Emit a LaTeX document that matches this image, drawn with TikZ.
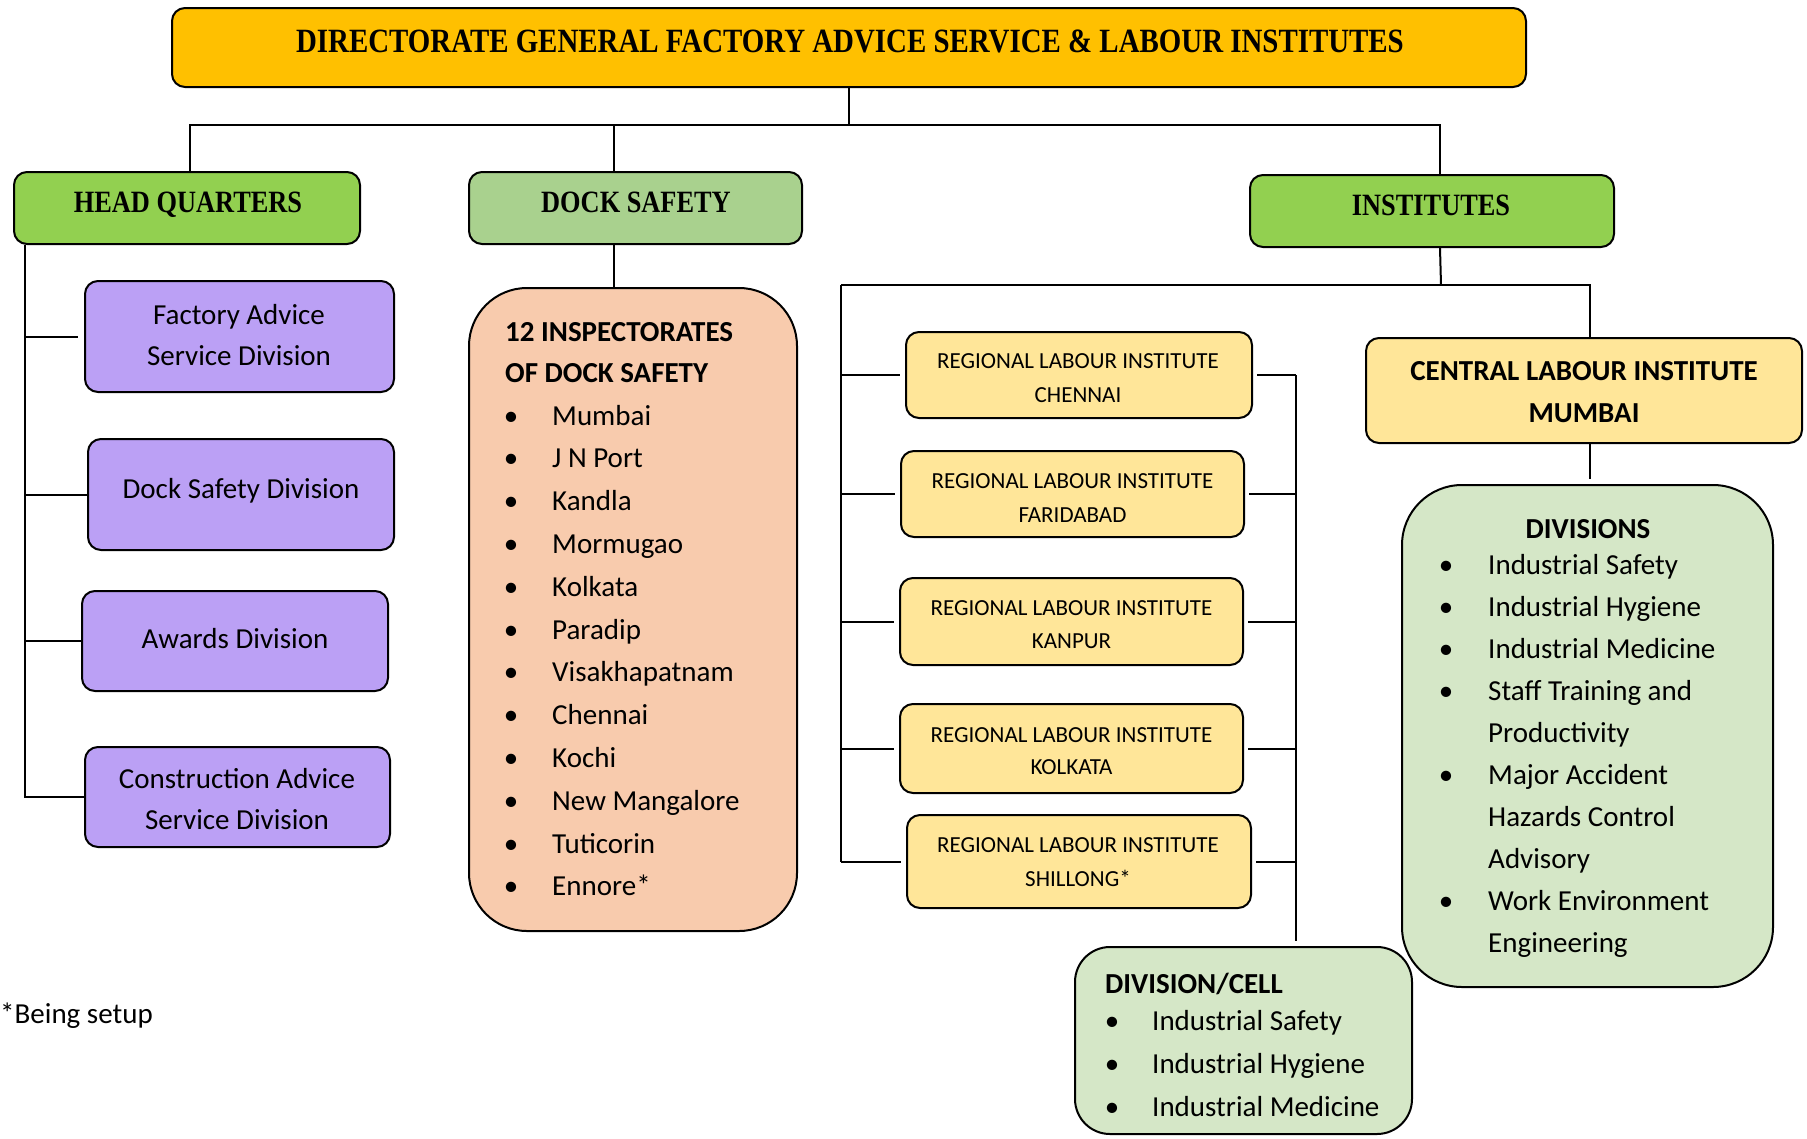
\documentclass[tikz,border=0pt]{standalone}
\usepackage{fontspec}
\setmainfont{Carlito}
\newfontfamily\hdfont[FakeStretch=0.85]{Liberation Serif}
\usetikzlibrary{calc}
\definecolor{cgold}{HTML}{FFC000}
\definecolor{cgreen}{HTML}{92D050}
\definecolor{cdock}{HTML}{A9D18E}
\definecolor{cpurple}{RGB}{187,160,245}
\definecolor{cpeach}{HTML}{F8CBAD}
\definecolor{cyell}{HTML}{FFE699}
\definecolor{clgreen}{RGB}{213,231,199}
\tikzset{
  box/.style={draw=black, line width=2pt, rounded corners=13pt, inner sep=0pt},
  conn/.style={draw=black, line width=2pt},
  hd/.style={inner sep=0pt, anchor=base, font=\hdfont\bfseries\fontsize{31}{37}\selectfont},
  ctxt/.style={inner sep=0pt, anchor=base, font=\fontsize{29}{35}\selectfont},
  btxt/.style={inner sep=0pt, anchor=base west, font=\bfseries\fontsize{29}{35}\selectfont},
  item/.style={inner sep=0pt, anchor=base west, font=\fontsize{29}{35}\selectfont},
  bul/.style={inner sep=0pt, anchor=base, font=\fontsize{29}{35}\selectfont},
  rtxt/.style={inner sep=0pt, anchor=base, font=\fontsize{23}{28}\selectfont}
}
\begin{document}
\begin{tikzpicture}[x=1pt,y=-1pt]
\useasboundingbox (0,0) rectangle (1807,1138);
% ---------- top ----------
\node[box, fill=cgold, minimum width=1354pt, minimum height=79pt] (top) at (849,47.5) {};
\node[hd, font=\hdfont\bfseries\fontsize{34}{40}\selectfont] (toptxt) at (850,52) {DIRECTORATE GENERAL FACTORY ADVICE SERVICE \& LABOUR INSTITUTES};
% ---------- second level ----------
\node[box, fill=cgreen, minimum width=346pt, minimum height=72pt] (hq) at (187,208) {};
\node[hd] (hqtxt) at (188,212) {HEAD QUARTERS};
\node[box, fill=cdock, minimum width=333pt, minimum height=72pt] (dock) at (635.5,208) {};
\node[hd] (docktxt) at (636,212) {DOCK SAFETY};
\node[box, fill=cgreen, minimum width=364pt, minimum height=72pt] (inst) at (1432,211) {};
\node[hd] (insttxt) at (1431,215) {INSTITUTES};
% ---------- HQ divisions ----------
\node[box, fill=cpurple, minimum width=309pt, minimum height=111pt] (p1) at (239.5,336.5) {};
\node[ctxt] (p1a) at (239,324) {Factory Advice};
\node[ctxt] (p1b) at (239,365) {Service Division};
\node[box, fill=cpurple, minimum width=306pt, minimum height=111pt] (p2) at (241,494.5) {};
\node[ctxt] (p2a) at (241,498) {Dock Safety Division};
\node[box, fill=cpurple, minimum width=306pt, minimum height=100pt] (p3) at (235,641) {};
\node[ctxt] (p3a) at (235,648) {Awards Division};
\node[box, fill=cpurple, minimum width=305pt, minimum height=100pt] (p4) at (237.5,797) {};
\node[ctxt] (p4a) at (237,788) {Construction Advice};
\node[ctxt] (p4b) at (237,829) {Service Division};
% ---------- dock inspectorates ----------
\node[box, fill=cpeach, rounded corners=58pt, minimum width=328pt, minimum height=643pt] (peach) at (633,609.5) {};
\node[btxt] (insp1) at (505,341) {12 INSPECTORATES};
\node[btxt] (insp2) at (505,382) {OF DOCK SAFETY};
\foreach \t [count=\i from 0] in {Mumbai,J N Port,Kandla,Mormugao,Kolkata,Paradip,Visakhapatnam,Chennai,Kochi,New Mangalore,Tuticorin,Ennore*} {
  \node[item] (dk\i) at (552,{425+\i*42.8}) {\t};
  \node[bul] (dkb\i) at (511,{425+\i*42.8}) {•};
}
% ---------- regional labour institutes ----------
\node[box, fill=cyell, minimum width=346pt, minimum height=86pt] (r1) at (1079,375) {};
\node[rtxt] (r1a) at (1078,368) {REGIONAL LABOUR INSTITUTE};
\node[rtxt] (r1b) at (1078,402) {CHENNAI};
\node[box, fill=cyell, minimum width=343pt, minimum height=86pt] (r2) at (1072.5,494) {};
\node[rtxt] (r2a) at (1072.5,488) {REGIONAL LABOUR INSTITUTE};
\node[rtxt] (r2b) at (1072.5,522) {FARIDABAD};
\node[box, fill=cyell, minimum width=343pt, minimum height=87pt] (r3) at (1071.5,621.5) {};
\node[rtxt] (r3a) at (1071.5,615) {REGIONAL LABOUR INSTITUTE};
\node[rtxt] (r3b) at (1071.5,648) {KANPUR};
\node[box, fill=cyell, minimum width=343pt, minimum height=89pt] (r4) at (1071.5,748.5) {};
\node[rtxt] (r4a) at (1071.5,742) {REGIONAL LABOUR INSTITUTE};
\node[rtxt] (r4b) at (1071.5,774) {KOLKATA};
\node[box, fill=cyell, minimum width=344pt, minimum height=93pt] (r5) at (1079,861.5) {};
\node[rtxt] (r5a) at (1078,852) {REGIONAL LABOUR INSTITUTE};
\node[rtxt] (r5b) at (1078,886) {SHILLONG*};
% ---------- division / cell ----------
\node[box, fill=clgreen, rounded corners=35pt, minimum width=337pt, minimum height=187pt] (dc) at (1243.5,1040.5) {};
\node[btxt] (dch) at (1105,993) {DIVISION/CELL};
\foreach \t [count=\i from 0] in {Industrial Safety,Industrial Hygiene,Industrial Medicine} {
  \node[item] (dc\i) at (1152,{1030+\i*43}) {\t};
  \node[bul] (dcb\i) at (1112,{1030+\i*43}) {•};
}
% ---------- central labour institute ----------
\node[box, fill=cyell, minimum width=436pt, minimum height=105pt] (cli) at (1584,390.5) {};
\node[ctxt, font=\bfseries\fontsize{29}{35}\selectfont] (clia) at (1584,380) {CENTRAL LABOUR INSTITUTE};
\node[ctxt, font=\bfseries\fontsize{29}{35}\selectfont] (clib) at (1584,422) {MUMBAI};
\node[box, fill=clgreen, rounded corners=60pt, minimum width=371pt, minimum height=502pt] (divs) at (1587.5,736) {};
\node[ctxt, font=\bfseries\fontsize{29}{35}\selectfont] (divh) at (1588,538) {DIVISIONS};
\foreach \t [count=\i from 0] in {Industrial Safety,Industrial Hygiene,Industrial Medicine,Staff Training and,Productivity,Major Accident,Hazards Control,Advisory,Work Environment,Engineering} {
  \node[item] (dv\i) at (1488,{574+\i*42}) {\t};
}
\foreach \i in {0,1,2,3,5,8} {
  \node[bul] (dvb\i) at (1446,{574+\i*42}) {•};
}
% ---------- footnote ----------
\node[item] (note) at (0,1023) {*Being setup};
% ---------- connectors ----------
\coordinate (bus) at (849,125);
\coordinate (hqx) at (190,0);
\coordinate (dockx) at (614,0);
\coordinate (instx) at (1440,0);
\draw[conn] (top.south -| bus) -- (bus);
\draw[conn] (hqx |- hq.north) -- (hqx |- bus) -- (instx |- bus) -- (instx |- inst.north);
\draw[conn] (dockx |- bus) -- (dockx |- dock.north);
\draw[conn] (dockx |- dock.south) -- (dockx |- peach.north);
% HQ tree
\coordinate (hqv) at (25,0);
\draw[conn] (hqv |- hq.south) |- (p4.west);
\draw[conn] (hqv |- p1.west) -- ([xshift=-6pt]p1.west);
\draw[conn] (hqv |- p2.west) -- (p2.west);
\draw[conn] (hqv |- p3.west) -- (p3.west);
% institutes tree
\coordinate (bus2) at (1441,285);
\coordinate (lv) at (841,0);
\coordinate (rv) at (1296,0);
\coordinate (cx) at (1590,0);
\draw[conn] (instx |- inst.south) -- (bus2);
\draw[conn] (lv |- bus2) -- (cx |- bus2) -- (cx |- cli.north);
\draw[conn] (lv |- bus2) -- (lv |- r5.west);
\foreach \r in {r1,r2,r3,r4,r5} {
  \draw[conn] (lv |- \r.west) -- ([xshift=-5pt]\r.west);
  \draw[conn] ([xshift=4pt]\r.east) -- (rv |- \r.east);
}
\draw[conn] (rv |- r1.east) -- ([yshift=5pt]rv |- dc.north);
\draw[conn] (cx |- cli.south) -- ([yshift=5pt]cx |- divs.north);
\end{tikzpicture}
\end{document}
